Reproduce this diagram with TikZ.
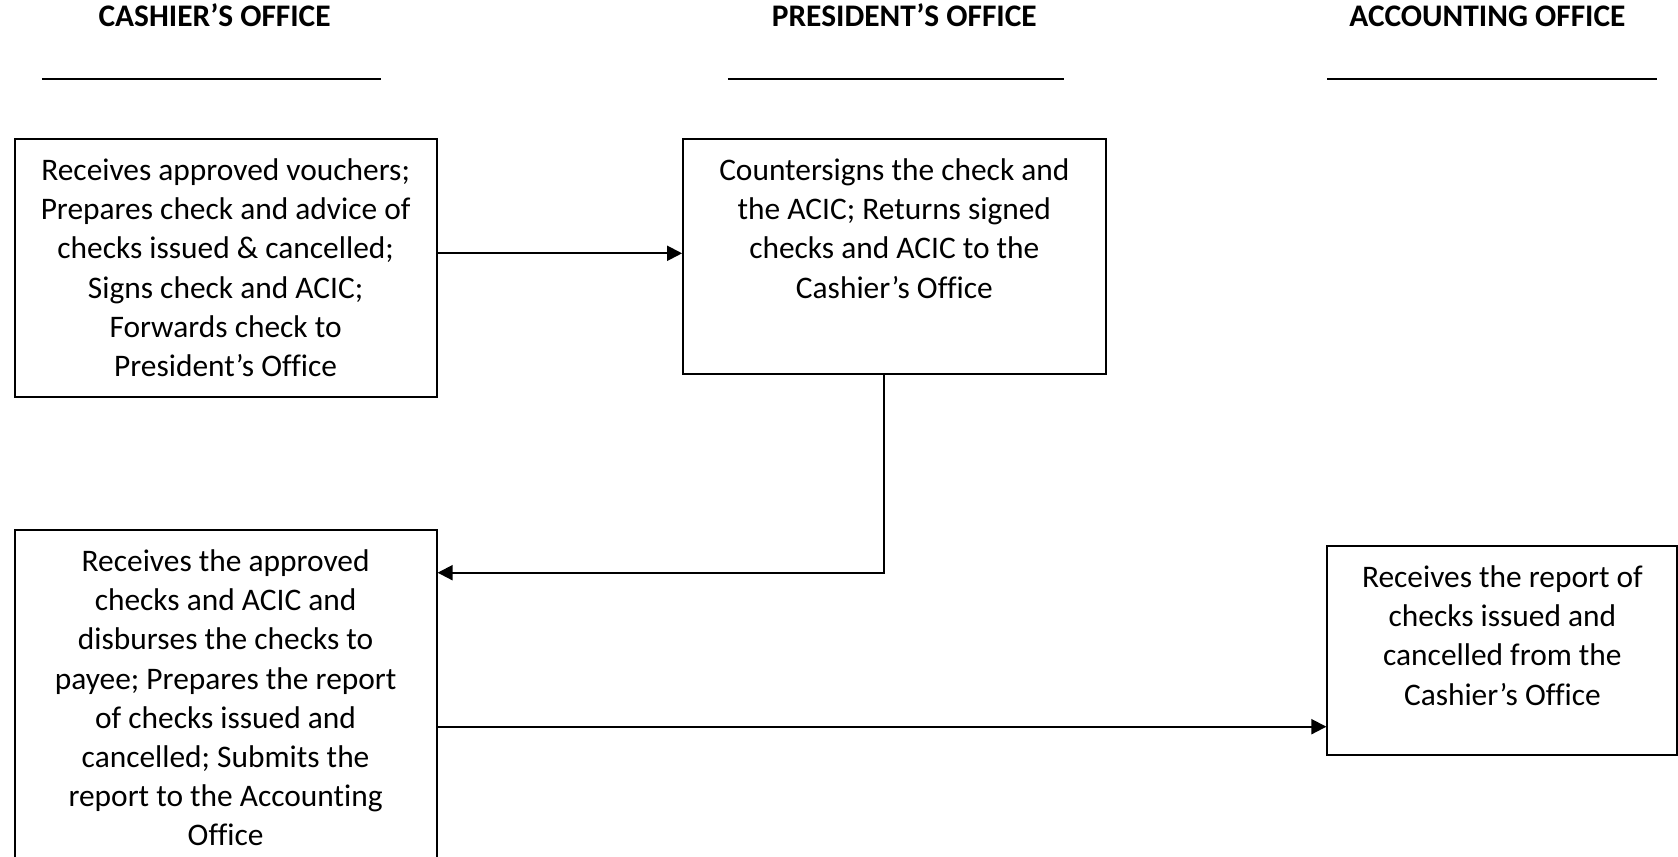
\documentclass[tikz,border=0pt]{standalone}
\usepackage{fontspec}
\setmainfont{Carlito}[Ligatures=NoCommon]
\usetikzlibrary{arrows.meta,calc}

% body of a process box: fixed width and height, text centred and set from the top
\newcommand{\panelbody}[3]{%
  \parbox[t][#2][t]{#1}{\centering\rule{0pt}{20.6pt}#3}}

\begin{document}
\begin{tikzpicture}[
    x=0.5pt, y=-0.5pt,
    every node/.style={font=\fontsize{15.7pt}{19.6pt}\selectfont},
    panel/.style={draw, line width=1pt, inner sep=0pt, anchor=north west},
    lane/.style={font=\fontsize{15.7pt}{19.6pt}\selectfont\bfseries, anchor=base, inner sep=0pt},
    rule/.style={line width=1pt},
    flow/.style={line width=1pt, -{Triangle[length=7.5pt,width=7.5pt]}}
  ]
  \useasboundingbox (0,0) rectangle (1678,857);

  % lane headings with their underlines
  \node[lane] (h1) at (214.6,26.7) {CASHIER’S OFFICE};
  \node[lane] (h2) at (904.3,26.7) {PRESIDENT’S OFFICE};
  \node[lane] (h3) at (1487.4,26.7) {ACCOUNTING OFFICE};
  \draw[rule] (41.8,79.3) -- (380.7,79.3);
  \draw[rule] (727.9,79.3) -- (1063.6,79.3);
  \draw[rule] (1327.1,79.3) -- (1656.8,79.3);

  % process boxes
  \node[panel] (b1) at (13.6,138.3) {\panelbody{211pt}{128.7pt}{%
    Receives approved vouchers;\\
    Prepares check and advice of\\
    checks issued \& cancelled;\\
    Signs check and ACIC;\\
    Forwards check to\\
    President’s Office}};

  \node[panel] (b2) at (682.1,138.3) {\panelbody{211.25pt}{117.2pt}{%
    Countersigns the check and\\
    the ACIC; Returns signed\\
    checks and ACIC to the\\
    Cashier’s Office}};

  \node[panel] (b3) at (13.6,529.3) {\panelbody{211pt}{172pt}{%
    Receives the approved\\
    checks and ACIC and\\
    disburses the checks to\\
    payee; Prepares the report\\
    of checks issued and\\
    cancelled; Submits the\\
    report to the Accounting\\
    Office}};

  \node[panel] (b4) at (1326.4,545.3) {\panelbody{175pt}{104.5pt}{%
    Receives the report of\\
    checks issued and\\
    cancelled from the\\
    Cashier’s Office}};

  % connectors
  \coordinate (r1) at (0,253.3);
  \coordinate (k2) at (884.3,572.7);
  \coordinate (r3) at (0,726.7);

  \draw[flow] (b1.east |- r1) -- (b2.west |- r1);
  \draw[flow] (b2.south -| k2) -- (k2) -- (b3.east |- k2);
  \draw[flow] (b3.east |- r3) -- (b4.west |- r3);
\end{tikzpicture}
\end{document}
